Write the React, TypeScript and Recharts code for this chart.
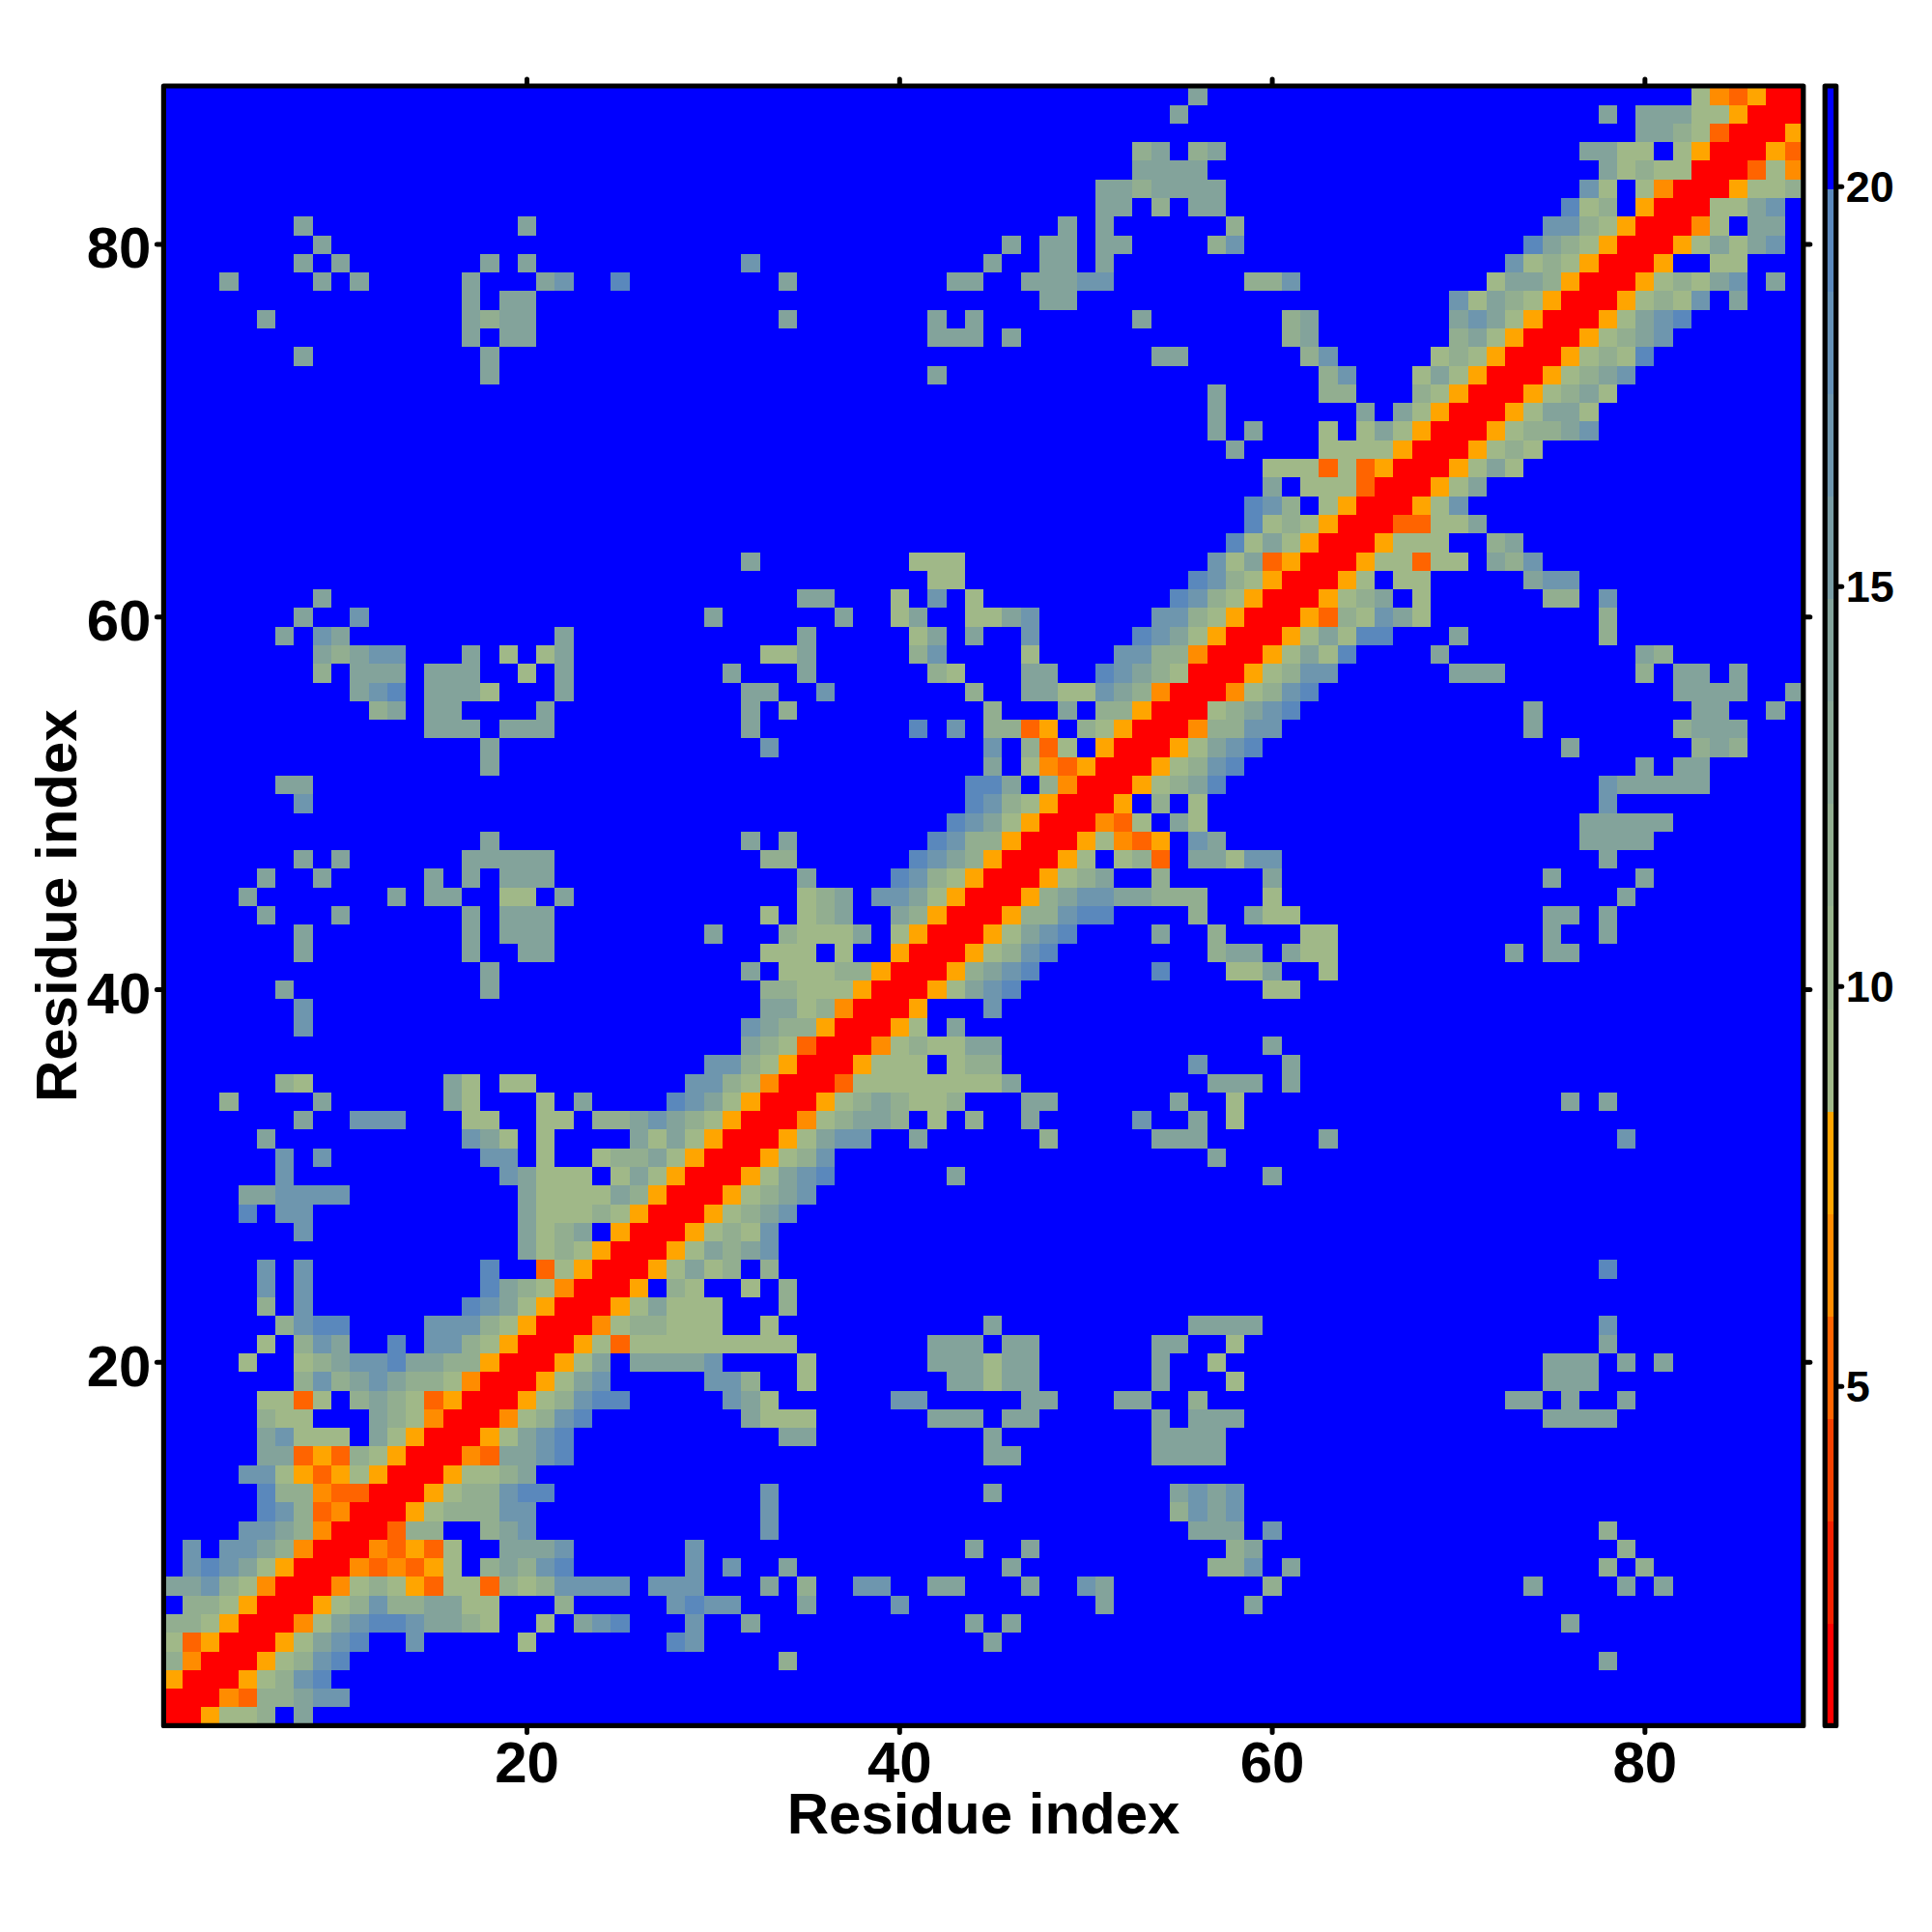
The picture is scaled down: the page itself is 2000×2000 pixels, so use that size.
import { Scatter, ScatterChart, XAxis, YAxis } from "recharts";

const FONT = "'Liberation Sans', Arial, sans-serif";
const residueCount = 88;
const axisTicks = [20, 40, 60, 80];
const barTicks = [5, 10, 15, 20];

// colour key: bin edges and the colour of each bin
const barBreaks = [0.76, 2.04, 3.32, 4.6, 5.88, 7.16, 8.44, 9.72, 11.01, 12.29, 13.57, 14.85, 16.13, 17.41, 18.69, 19.98, 21.26];
const barColors = ["#FF0000", "#F52000", "#F54000", "#FF6400", "#FF8C00", "#FFA500", "#A0B888", "#98B38C", "#92AE90", "#8AA896", "#83A39B", "#789CA4", "#6E96AE", "#6490B6", "#5A88BC", "#0000FF"];

// distance for each cell code; "." is the far (blue) bin
const codeValues: Record<string, number> = { r: 1.4, o: 5.2, n: 6.5, y: 7.8, a: 9.1, b: 11.7, c: 14.2, d: 16.8, e: 19.3, ".": 21 };

// [row, first column, cell codes]; everything not listed is blue
const contactSegments: [number, number, string][] = [
  [88, 56, "c"], [88, 83, "anoyrr"],
  [87, 55, "c"], [87, 78, "c.cccaayrrr"],
  [86, 80, "ccbaorrry"],
  [85, 53, "bc.bc"], [85, 77, "ccaa.ayrrryo"],
  [84, 53, "cccc"], [84, 78, "cabaarrroan"],
  [83, 51, "ccbcccc"], [83, 77, "da.anrrryaab"],
  [82, 51, "cc.b.cc"], [82, 76, "eab.yrrraacd"],
  [81, 8, "c"], [81, 20, "c"], [81, 49, "c.c"], [81, 58, "b"], [81, 75, "ddbayrrrna.cc"],
  [80, 9, "c"], [80, 46, "c.cc.cc"], [80, 57, "bd"], [80, 74, "ecbayrrryacacd"],
  [79, 8, "c.c"], [79, 18, "c.c"], [79, 32, "d"], [79, 45, "c"], [79, 48, "cc.c"], [79, 73, "dabayrrry..aa"],
  [78, 4, "c"], [78, 9, "c.c"], [78, 17, "c"], [78, 21, "cd"], [78, 25, "e"], [78, 34, "c"], [78, 43, "cc"], [78, 47, "cccdd"], [78, 59, "bbd"], [78, 72, "accbyrrryabacd.c"],
  [77, 17, "c.cc"], [77, 48, "cc"], [77, 70, "dacbayrrryabad.c"],
  [76, 6, "c"], [76, 17, "cbcc"], [76, 34, "c"], [76, 42, "c.c"], [76, 53, "c"], [76, 61, "bc"], [76, 70, "cdcayrrryacde"],
  [75, 17, "c.cc"], [75, 42, "ccc.c"], [75, 61, "bc"], [75, 70, "bcayrrryabcd"],
  [74, 8, "c"], [74, 18, "c"], [74, 54, "cc"], [74, 62, "bd"], [74, 69, "abayrrryabae"],
  [73, 18, "c"], [73, 42, "c"], [73, 63, "bd"], [73, 68, "acayrrryabcd"],
  [72, 57, "c"], [72, 63, "bb"], [72, 68, "bayrrryabca"],
  [71, 57, "c"], [71, 65, "c.cayrrryacca"],
  [70, 57, "c.c"], [70, 63, "a.acayrrryabbcd"],
  [69, 58, "c"], [69, 63, "aaaayrrryaba"],
  [68, 60, "aaaoaoyrrryaca"],
  [67, 60, "c.aaaorrryac"],
  [66, 59, "edb.ayrrryad"],
  [65, 59, "eabayrrrooaac"],
  [64, 58, "eacayrrryaaa"], [64, 72, "bc"],
  [63, 32, "c"], [63, 41, "aaa"], [63, 57, "dacoyrrryaaoaa"], [63, 72, "cbd"],
  [62, 42, "aa"], [62, 56, "edbayrrrya.aa"], [62, 74, "cdd"],
  [61, 9, "c"], [61, 35, "cc"], [61, 40, "a.d.a"], [61, 55, "edbayrrryabc.a"], [61, 75, "bb.d"],
  [60, 8, "c"], [60, 11, "d"], [60, 30, "c"], [60, 37, "c"], [60, 40, "ac"], [60, 44, "aacd"], [60, 54, "ddbayrrryobadca"], [60, 78, "b"],
  [59, 7, "c.dc"], [59, 22, "c"], [59, 35, "c"], [59, 41, "ac.c"], [59, 47, "d"], [59, 53, "edcayrrryacaee"], [59, 70, "c"], [59, 78, "b"],
  [58, 9, "cbcdd"], [58, 17, "c.a.ac"], [58, 33, "aac"], [58, 41, "bd"], [58, 47, "a"], [58, 52, "ddbbnrrryacae"], [58, 69, "c"], [58, 80, "cb"],
  [57, 9, "b.ccc.ccc"], [57, 20, "a.c"], [57, 31, "c"], [57, 35, "c"], [57, 42, "ba"], [57, 47, "cc"], [57, 51, "edcbarrryabdd"], [57, 70, "ccc"], [57, 80, "b"], [57, 82, "cc"], [57, 85, "c"],
  [56, 11, "cde"], [56, 15, "ccca"], [56, 22, "c"], [56, 32, "cc"], [56, 36, "d"], [56, 44, "b"], [56, 47, "ccaadcbnrrrnabde"], [56, 82, "cccc"], [56, 88, "c"],
  [55, 12, "bc"], [55, 15, "cc"], [55, 21, "c"], [55, 32, "c.b"], [55, 45, "b"], [55, 49, "c.bbyrrrabcde"], [55, 74, "c"], [55, 83, "cc"], [55, 87, "c"],
  [54, 15, "ccc.ccc"], [54, 32, "c"], [54, 41, "e.d"], [54, 45, "bboy.bayrrrnbbdd"], [54, 74, "c"], [54, 82, "bccc"],
  [53, 18, "c"], [53, 33, "d"], [53, 45, "d.boa.yrrryacde"], [53, 76, "c"], [53, 83, "bcb"],
  [52, 18, "c"], [52, 45, "c.anoyrrryabde"], [52, 80, "c.cc"],
  [51, 7, "cc"], [51, 44, "eec.bnrrryabce"], [51, 78, "dccccc"],
  [50, 8, "d"], [50, 44, "edbayrrry.b.a"], [50, 78, "d"],
  [49, 43, "edcayrrrnoa.ca"], [49, 77, "ccccc"],
  [48, 18, "c"], [48, 32, "c.c"], [48, 42, "edbbyrrryanoy"], [48, 56, "dc"], [48, 77, "cccc"],
  [47, 8, "c.c"], [47, 17, "ccccc"], [47, 33, "bb"], [47, 41, "edcbyrrrya.abo"], [47, 56, "ccadd"], [47, 78, "c"],
  [46, 6, "c"], [46, 9, "c"], [46, 15, "c.c.ccc"], [46, 35, "c"], [46, 40, "edbayrrryabc"], [46, 54, "b"], [46, 60, "c"], [46, 75, "c"], [46, 80, "c"],
  [45, 5, "c"], [45, 13, "c"], [45, 15, "cc"], [45, 19, "aa.c"], [45, 35, "abc"], [45, 39, "ddcayrrrybcddccbbb"], [45, 60, "a"], [45, 79, "c"],
  [44, 6, "c"], [44, 10, "c"], [44, 17, "c.ccc"], [44, 33, "a.abc"], [44, 40, "cbyrrrybbdee"], [44, 56, "b"], [44, 59, "caa"], [44, 75, "cc.c"],
  [43, 8, "c"], [43, 17, "c.ccc"], [43, 30, "c"], [43, 34, "baaac"], [43, 40, "ayrrryacde"], [43, 54, "c"], [43, 57, "b"], [43, 62, "aa"], [43, 75, "c"], [43, 78, "c"],
  [42, 8, "c"], [42, 17, "c"], [42, 20, "cc"], [42, 33, "aaa.a"], [42, 40, "yrrryabde"], [42, 57, "bcc.caa"], [42, 73, "c.cc"],
  [41, 18, "c"], [41, 32, "c.aaabb"], [41, 39, "yrrrybcde"], [41, 54, "e"], [41, 58, "aac"], [41, 63, "a"],
  [40, 7, "c"], [40, 18, "c"], [40, 33, "bbaaayrrryacde"], [40, 60, "aa"],
  [39, 8, "d"], [39, 33, "ccabnrrry"], [39, 45, "d"],
  [38, 8, "d"], [38, 32, "dcbbyrrrya.c"],
  [37, 32, "cbaorrrnabaacc"], [37, 60, "c"],
  [36, 30, "ddbayrrryaaa.abb"], [36, 56, "d"], [36, 61, "c"],
  [35, 7, "ba"], [35, 16, "ca"], [35, 19, "aa"], [35, 29, "ddbanrrroaaaaaaaac"], [35, 57, "ccc.c"],
  [34, 4, "b"], [34, 9, "c"], [34, 16, "ca"], [34, 21, "a.c"], [34, 28, "edcayrrryabcbaab"], [34, 47, "cc"], [34, 55, "c"], [34, 58, "a"], [34, 76, "c.c"],
  [33, 8, "c"], [33, 11, "ddd"], [33, 17, "aa"], [33, 21, "aa"], [33, 24, "bbcdcbayrrrnabccb.a.b"], [33, 47, "c"], [33, 53, "d"], [33, 56, "c.a"],
  [32, 6, "c"], [32, 17, "dca.a"], [32, 26, "cacayrrryacdd"], [32, 41, "c"], [32, 48, "b"], [32, 54, "ccc"], [32, 63, "c"], [32, 79, "d"],
  [31, 7, "d.d"], [31, 18, "dd.a..abbcayrrryabd"], [31, 57, "c"],
  [30, 7, "d"], [30, 19, "dcaaa.acayrrryacde"], [30, 43, "c"], [30, 60, "c"],
  [29, 5, "ccdddd"], [29, 20, "caaaacbyrrryabcd"],
  [28, 5, "e.dd"], [28, 20, "caaabayrrryabcd"],
  [27, 8, "d"], [27, 20, "cabc.yrrryabad"],
  [26, 20, "cabayrrryacbcd"],
  [25, 6, "d.d"], [25, 18, "e..oayrrryacab.b"], [25, 78, "e"],
  [24, 6, "d.d"], [24, 18, "ecbanrrry.ba..a.b"],
  [23, 6, "b.d"], [23, 17, "edcayrrryacaaa...b"],
  [22, 7, "bdee"], [22, 15, "dddbayrrrnabbaaa"], [22, 33, "a"], [22, 45, "c"], [22, 56, "cccc"], [22, 78, "d"],
  [21, 6, "a.bdc..e.ddbayrrryaoaaaaaaaaa"], [21, 42, "ccc.cc"], [21, 54, "cc"], [21, 58, "a"], [21, 78, "c"],
  [20, 5, "a"], [20, 8, "abcddeccbbyrrryac"], [20, 26, "ccccd"], [20, 35, "a"], [20, 42, "cccacc"], [20, 54, "c"], [20, 57, "a"], [20, 75, "ccc.c.c"],
  [19, 8, "bdbcdcbbanrrryacd"], [19, 30, "ddb"], [19, 35, "a"], [19, 43, "ccacc"], [19, 54, "c"], [19, 58, "a"], [19, 75, "ccc"],
  [18, 6, "aaoa.bcbaoyrrryabdee"], [18, 31, "dca"], [18, 40, "dd"], [18, 47, "cc"], [18, 52, "cc"], [18, 56, "b"], [18, 73, "cc.c..c"],
  [17, 6, "baa...cbanrrrnabde"], [17, 32, "caaa"], [17, 42, "ccc.cc"], [17, 54, "c.ccc"], [17, 75, "cccc"],
  [16, 6, "cdaaa.cayrrryacde"], [16, 34, "cc"], [16, 45, "c"], [16, 54, "cccc"],
  [15, 6, "ccoyobayrrrnoccde"], [15, 45, "cc"], [15, 54, "cccc"],
  [14, 5, "ddayoyayrrryaabc"],
  [13, 6, "ebbnoorrryabbdee"], [13, 33, "d"], [13, 45, "c"], [13, 55, "cdcd"],
  [12, 6, "edbonrrryabbbdd"], [12, 33, "d"], [12, 55, "bdcd"],
  [11, 5, "ddcbnrrrobb..bcd"], [11, 33, "d"], [11, 56, "ccc"], [11, 60, "d"], [11, 78, "b"],
  [10, 2, "d.ddcbnrrrnoyoa..cccd"], [10, 29, "d"], [10, 44, "c..c"], [10, 58, "bc"], [10, 79, "b"],
  [9, 2, "dedcayrrrnonoya.bcbde"], [9, 29, "d"], [9, 31, "d"], [9, 34, "c"], [9, 46, "c"], [9, 57, "bbd"], [9, 61, "c"], [9, 78, "b.b"],
  [8, 1, "ccdbanrrrnabayoaaobabdddd.ddd"], [8, 33, "c.b"], [8, 38, "dd"], [8, 42, "cc"], [8, 47, "c"], [8, 50, "dc"], [8, 60, "b"], [8, 74, "c"], [8, 79, "c.c"],
  [7, 2, "bbayrrryabdbbccaa"], [7, 22, "b"], [7, 28, "dedd"], [7, 35, "c"], [7, 40, "d"], [7, 51, "c"], [7, 59, "c"],
  [6, 1, "bbayrrrnacdeedccba"], [6, 21, "a"], [6, 23, "cde"], [6, 29, "d"], [6, 32, "c"], [6, 44, "c.c"], [6, 76, "c"],
  [5, 1, "aoyrrryacde"], [5, 14, "d"], [5, 20, "a"], [5, 28, "ed"], [5, 45, "c"],
  [4, 1, "bnrrryabde"], [4, 34, "b"], [4, 78, "c"],
  [3, 1, "yrrryabde"],
  [2, 1, "rrrnobbcdd"],
  [1, 1, "rryaab.c"],
];

const PLOT_LEFT = 169.4;
const PLOT_TOP = 89;
const PLOT_SIZE = 1697.4;
const CELL_SIZE = PLOT_SIZE / residueCount;
const BAR_LEFT = 9.2; // inside the colour key chart
const BAR_WIDTH = 11.5;
const BAR_BAND = PLOT_SIZE / barColors.length;
const FRAME_WIDTH = 5.2;

const colorFor = (value: number) => {
  for (let i = 0; i < barColors.length; i++) {
    if (value < barBreaks[i + 1]) return barColors[i];
  }
  return barColors[barColors.length - 1];
};

const lookup = new Map<string, number>();
contactSegments.forEach(([row, start, codes]) => {
  codes.split("").forEach((code, i) => lookup.set(`${row}:${start + i}`, codeValues[code]));
});

const cells: { x: number; y: number; distance: number }[] = [];
for (let y = 1; y <= residueCount; y++) {
  for (let x = 1; x <= residueCount; x++) {
    cells.push({ x, y, distance: lookup.get(`${y}:${x}`) ?? codeValues["."] });
  }
}

const domain: [number, number] = [0.5, 88.5];
const barDomain: [number, number] = [barBreaks[0], barBreaks[barBreaks.length - 1]];
const bands = barColors.map((fill, i) => ({ x: 0.5, y: (barBreaks[i] + barBreaks[i + 1]) / 2, fill }));
const plotCentre = [{ x: (domain[0] + domain[1]) / 2, y: (domain[0] + domain[1]) / 2 }];
const barCentre = [{ x: 0.5, y: (barDomain[0] + barDomain[1]) / 2 }];

const CellRect = (props: any) => (
  <rect
    x={props.cx - CELL_SIZE / 2}
    y={props.cy - CELL_SIZE / 2}
    width={CELL_SIZE + 0.3}
    height={CELL_SIZE + 0.3}
    fill={colorFor(props.payload.distance)}
    shapeRendering="crispEdges"
  />
);

const BandRect = (props: any) => (
  <rect
    x={props.cx - BAR_WIDTH / 2}
    y={props.cy - BAR_BAND / 2}
    width={BAR_WIDTH}
    height={BAR_BAND + 0.6}
    fill={props.payload.fill}
    shapeRendering="crispEdges"
  />
);

// frames go in as the last series so that they sit over the cells
const PlotFrame = (props: any) => (
  <rect
    x={props.cx - PLOT_SIZE / 2}
    y={props.cy - PLOT_SIZE / 2}
    width={PLOT_SIZE}
    height={PLOT_SIZE}
    fill="none"
    stroke="#000"
    strokeWidth={FRAME_WIDTH}
    strokeLinejoin="round"
  />
);

const BarFrame = (props: any) => (
  <rect
    x={props.cx - BAR_WIDTH / 2}
    y={props.cy - PLOT_SIZE / 2}
    width={BAR_WIDTH}
    height={PLOT_SIZE}
    fill="none"
    stroke="#000"
    strokeWidth={FRAME_WIDTH}
    strokeLinejoin="round"
  />
);

const NoMark = () => null;

const tickStyle = { fontFamily: FONT, fontWeight: 700, fontSize: 60, fill: "#000" };
const tickLine = { stroke: "#000", strokeWidth: 5, strokeLinecap: "round" as const };
const labelStyle = { fontFamily: FONT, fontWeight: 700, fontSize: 60, fill: "#000" };
const blank = () => "";

export default function App() {
  return (
    <div style={{ position: "absolute", left: 0, top: 0, width: 2000, height: 2000, background: "#fff" }}>
      <div style={{ position: "absolute", left: 0, top: 0 }}>
        <ScatterChart width={2000} height={2000} margin={{ top: 0, right: 0, bottom: 0, left: 0 }}>
          <XAxis
            dataKey="x"
            type="number"
            xAxisId="bottom"
            orientation="bottom"
            height={2000 - PLOT_TOP - PLOT_SIZE}
            domain={domain}
            ticks={axisTicks}
            interval={0}
            axisLine={false}
            tickLine={tickLine}
            tickSize={7}
            tickMargin={9}
            tick={tickStyle}
            label={{ value: "Residue index", position: "insideBottom", offset: 102, style: labelStyle }}
          />
          <XAxis
            dataKey="x"
            type="number"
            xAxisId="top"
            orientation="top"
            height={PLOT_TOP}
            domain={domain}
            ticks={axisTicks}
            interval={0}
            axisLine={false}
            tickLine={tickLine}
            tickSize={7}
            tickFormatter={blank}
          />
          <YAxis
            dataKey="y"
            type="number"
            yAxisId="left"
            orientation="left"
            width={PLOT_LEFT}
            domain={domain}
            ticks={axisTicks}
            interval={0}
            axisLine={false}
            tickLine={tickLine}
            tickSize={7}
            tickMargin={6}
            tick={{ ...tickStyle, dy: 3 }}
            label={{ value: "Residue index", angle: -90, position: "insideLeft", offset: 58, style: { ...labelStyle, textAnchor: "middle" } }}
          />
          <YAxis
            dataKey="y"
            type="number"
            yAxisId="right"
            orientation="right"
            width={2000 - PLOT_LEFT - PLOT_SIZE}
            domain={domain}
            ticks={axisTicks}
            interval={0}
            axisLine={false}
            tickLine={tickLine}
            tickSize={7}
            tickFormatter={blank}
          />
          <Scatter data={cells} xAxisId="bottom" yAxisId="left" shape={CellRect} isAnimationActive={false} />
          <Scatter data={cells.slice(0, 1)} xAxisId="top" yAxisId="right" shape={NoMark} isAnimationActive={false} />
          <Scatter data={plotCentre} xAxisId="bottom" yAxisId="left" shape={PlotFrame} isAnimationActive={false} />
        </ScatterChart>
      </div>
      <div style={{ position: "absolute", left: 1880, top: 0 }}>
        <ScatterChart
          width={120}
          height={2000}
          margin={{ top: PLOT_TOP, right: 0, bottom: 2000 - PLOT_TOP - PLOT_SIZE, left: BAR_LEFT }}
        >
          <XAxis type="number" dataKey="x" domain={[0, 1]} hide />
          <YAxis
            type="number"
            dataKey="y"
            orientation="right"
            width={120 - BAR_LEFT - BAR_WIDTH}
            domain={barDomain}
            ticks={barTicks}
            interval={0}
            axisLine={false}
            tickLine={tickLine}
            tickSize={6}
            tickMargin={4}
            tick={{ ...tickStyle, fontSize: 45 }}
          />
          <Scatter data={bands} shape={BandRect} isAnimationActive={false} />
          <Scatter data={barCentre} shape={BarFrame} isAnimationActive={false} />
        </ScatterChart>
      </div>
    </div>
  );
}
